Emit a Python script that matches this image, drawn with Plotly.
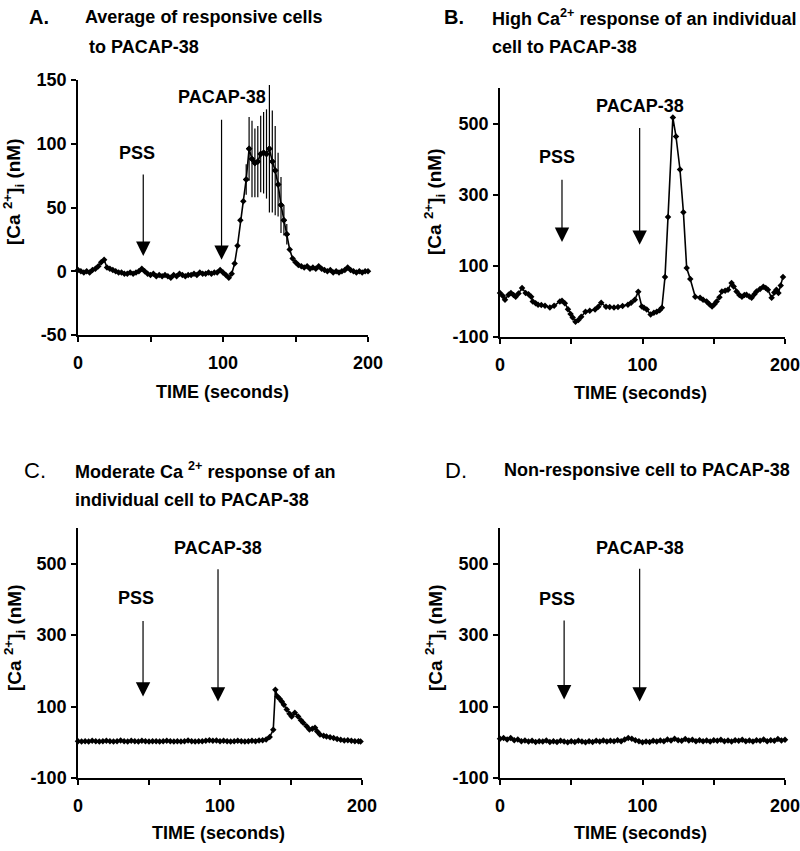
import plotly.graph_objects as go

# ---------------- data ----------------
A_t = [0, 2, 4, 6, 8, 10, 12, 14, 16, 18, 20, 22, 24, 26, 28, 30, 32, 34, 36, 38, 40,
       42, 44, 46, 48, 50, 52, 54, 56, 58, 60, 62, 64, 66, 68, 70, 72, 74, 76, 78, 80,
       82, 84, 86, 88, 90, 92, 94, 96, 98, 100, 102, 104, 106, 108, 110, 112, 114, 116, 118, 120,
       122, 124, 126, 128, 130, 132, 134, 136, 138, 140, 142, 144, 146, 148, 150, 152, 154, 156, 158, 160,
       162, 164, 166, 168, 170, 172, 174, 176, 178, 180, 182, 184, 186, 188, 190, 192, 194, 196, 198, 200]
A_v = [1, 0, -1, 0, -1, 1, 2, 4, 7, 9, 3, 2, 1, 0, -1, -1, -2, -2, -1, -2, -1,
       0, 2, 0, -2, -3, -2, -4, -3, -4, -3, -4, -5, -3, -4, -2, -3, -4, -3, -3, -2,
       -3, -1, -2, -2, -1, -2, -1, -1, 1, -1, -3, -5, -2, 6, 20, 40, 55, 72, 96, 88,
       85, 86, 92, 93, 92, 96, 86, 79, 68, 52, 40, 29, 17, 10, 7, 5, 4, 3, 4, 2,
       3, 2, 4, 2, 1, 0, 1, -1, 0, -1, 0, 1, 3, 1, 0, -1, 0, -1, 0, 0]
A_err_t = [116, 118, 120, 122, 124, 126, 128, 130, 132, 134, 136, 138, 140, 142, 144]
A_err = [12, 25, 30, 27, 28, 30, 32, 35, 50, 40, 35, 25, 22, 12, 8]

B_t = [0, 2, 3.5, 6, 7.7, 9.5, 11, 13, 15.5, 18, 20, 21.9, 23, 25, 26.7, 29, 31.6, 35, 38, 42,
       43.5, 45.5, 47.7, 49.5, 51, 53, 55, 57, 60, 63, 66.7, 69, 71, 74.4, 77, 80, 82.8, 86, 89.8, 92,
       94.6, 97, 99.5, 101, 103, 105.7, 108, 110, 112, 113.6, 115.8, 117.9, 121.3, 123.5, 126.3, 128.7, 131, 133.5, 137, 140.4,
       142.5, 145, 147, 148.8, 150.5, 152, 154, 155.7, 158, 160, 162.5, 164, 166, 168, 169.8, 171.5, 173, 175, 176.6, 178.5,
       180, 182.5, 184.8, 186.5, 188, 190.6, 192.5, 194, 195.4, 197, 198.6]
B_v = [24, 15, 5, 19, 24, 18, 13, 22, 38, 24, 20, 13, 0, -5, -9, -10, -12, -17, -12, 0,
       2, -5, -22, -35, -45, -57, -52, -43, -29, -26, -23, -15, -4, -15, -16, -17, -16, -13, -9, -4,
       5, 27, -14, -18, -23, -37, -32, -29, -25, -18, 69, 237, 517, 464, 371, 251, 94, 63, 13, 10,
       5, 0, -8, -14, -8, 0, 12, 28, 30, 33, 52, 42, 28, 18, 13, 18, 19, 14, 10, 20,
       28, 35, 41, 38, 33, 10, 25, 33, 24, 45, 69]

C_t = [0, 2.5, 5, 7.5, 10, 12.5, 15, 17.5, 20, 22.5, 25, 27.5, 30, 32.5, 35, 37.5, 40, 42.5, 45, 47.5,
       50, 52.5, 55, 57.5, 60, 62.5, 65, 67.5, 70, 72.5, 75, 77.5, 80, 82.5, 85, 87.5, 90, 92.5, 95, 97.5,
       100, 102.5, 105, 107.5, 110, 112.5, 115, 117.5, 120, 122.5, 125, 127.5, 130, 132.5, 135, 137.5, 139, 140.5, 142, 143.5,
       145, 147, 149, 150.5, 152.7, 155, 157, 158.6, 161, 163, 165, 166.9, 168.5, 170.4, 173, 175, 177.5, 180, 182.5, 185,
       187.5, 190, 192.5, 195, 197.5, 199]
C_v = [3, 2, 3, 2, 4, 3, 2, 3, 4, 3, 2, 3, 5, 3, 2, 4, 3, 2, 4, 3,
       2, 3, 3, 2, 3, 4, 3, 2, 3, 2, 3, 5, 3, 2, 3, 3, 4, 6, 4, 5,
       3, 4, 3, 2, 3, 4, 3, 2, 3, 4, 3, 5, 6, 8, 15, 35, 147, 128, 122, 114,
       105, 92, 80, 72, 83, 72, 62, 55, 45, 36, 38, 41, 30, 22, 18, 16, 14, 12, 9, 7,
       5, 6, 4, 3, 3, 2]

D_t = [0, 2.5, 5, 7.5, 10, 12.5, 15, 17.5, 20, 22.5, 25, 27.5, 30, 32.5, 35, 37.5, 40, 42.5, 45, 47.5,
       50, 52.5, 55, 57.5, 60, 62.5, 65, 67.5, 70, 72.5, 75, 77.5, 80, 82.5, 85, 87.5, 90, 92.5, 95, 97.5,
       100, 102.5, 105, 107.5, 110, 112.5, 115, 117.5, 120, 122.5, 125, 127.5, 130, 132.5, 135, 137.5, 140, 142.5, 145, 147.5,
       150, 152.5, 155, 157.5, 160, 162.5, 165, 167.5, 170, 172.5, 175, 177.5, 180, 182.5, 185, 187.5, 190, 192.5, 195, 197.5, 200]
D_v = [10, 12, 8, 12, 6, 8, 3, 5, 2, 4, 1, 3, 2, 5, 1, 3, 1, 4, 2, 0,
       3, 1, 4, 2, 0, 3, 1, 4, 2, 5, 2, 4, 3, 6, 3, 8, 12, 10, 6, 3,
       0, 2, 1, 4, 2, 5, 3, 8, 5, 10, 6, 4, 9, 5, 7, 3, 6, 3, 5, 2,
       6, 4, 7, 3, 5, 2, 6, 4, 7, 3, 5, 2, 6, 4, 8, 3, 6, 4, 9, 5, 7]

x_tickvals = [0, 50, 100, 150, 200]
x_ticktext = ["0", "", "100", "", "200"]
A_ytick = [-50, 0, 50, 100, 150]
A_yticktext = ["-50", "0", "50", "100", "150"]
BCD_ytick = [-100, 100, 300, 500]
BCD_yticktext = ["-100", "100", "300", "500"]

FONT = "Liberation Sans, Arial, sans-serif"
W, H = 800, 851

fig = go.Figure()

def px_x(p):
    return p / W

def px_y(p):
    return 1 - p / H

panels = [
    dict(t=A_t, v=A_v, xd=(78, 368), yd=(80, 335), yr=[-50, 150], yt=A_ytick, ytt=A_yticktext),
    dict(t=B_t, v=B_v, xd=(500, 785), yd=(88, 337), yr=[-100, 600], yt=BCD_ytick, ytt=BCD_yticktext),
    dict(t=C_t, v=C_v, xd=(78, 362), yd=(528, 778), yr=[-100, 600], yt=BCD_ytick, ytt=BCD_yticktext),
    dict(t=D_t, v=D_v, xd=(500, 785), yd=(528, 778), yr=[-100, 600], yt=BCD_ytick, ytt=BCD_yticktext),
]

layout_axes = {}
for i, p in enumerate(panels, start=1):
    xa = "x" if i == 1 else f"x{i}"
    ya = "y" if i == 1 else f"y{i}"
    fig.add_trace(go.Scatter(
        x=p["t"], y=p["v"], mode="lines+markers", xaxis=xa, yaxis=ya,
        line=dict(color="black", width=1.6),
        marker=dict(symbol="diamond", size=5, color="black"),
        showlegend=False, cliponaxis=False))
    common = dict(showgrid=False, zeroline=False, showline=True, linecolor="black",
                  linewidth=1.5, ticks="outside", ticklen=5, tickwidth=1.5, tickcolor="black",
                  automargin=False, ticklabeloverflow="allow",
                  tickfont=dict(family=FONT, size=18, color="black", weight="bold"))
    layout_axes[f"xaxis{'' if i == 1 else i}"] = dict(
        domain=[px_x(p["xd"][0]), px_x(p["xd"][1])], range=[0, 200],
        tickvals=x_tickvals, ticktext=x_ticktext, anchor=ya, ticklabelstandoff=6, **common)
    layout_axes[f"yaxis{'' if i == 1 else i}"] = dict(
        domain=[px_y(p["yd"][1]), px_y(p["yd"][0])], range=p["yr"],
        tickvals=p["yt"], ticktext=p["ytt"], anchor=xa, ticklabelstandoff=1, **common)

# error bars for panel A
err_lookup = dict(zip(A_t, A_v))
fig.add_trace(go.Scatter(
    x=A_err_t, y=[err_lookup[t] for t in A_err_t], mode="markers", xaxis="x", yaxis="y",
    marker=dict(size=5, color="black", symbol="diamond"),
    error_y=dict(type="data", array=A_err, visible=True, color="black", thickness=1.2, width=0),
    showlegend=False))

fig.update_layout(**layout_axes)

annotations = []

def arrow(xa, ya, x, tail, tip):
    annotations.append(dict(x=x, y=tip, ax=x, ay=tail, xref=xa, yref=ya, axref=xa, ayref=ya,
                            text="", showarrow=True, arrowhead=2, arrowsize=2.4,
                            arrowwidth=1.2, arrowcolor="black"))

def label(xa, ya, x, y, text):
    annotations.append(dict(x=x, y=y, xref=xa, yref=ya, text=f"<b>{text}</b>", showarrow=False,
                            font=dict(family=FONT, size=18, color="black"),
                            xanchor="center", yanchor="middle"))

arrow_specs = [
    ("x", "y", 45, 77, 12, (41, 93), 99, 120, 9, (99, 137)),
    ("x2", "y2", 43.5, 346, 167, (40, 405), 98, 492, 159, (98, 550)),
    ("x3", "y3", 45.8, 344, 128, (40.7, 403), 98.6, 489, 114, (98.5, 544)),
    ("x4", "y4", 45, 345, 120, (40, 400), 98, 490, 114, (98, 545)),
]
for xa, ya, px_, pt, pp, pl, ax_, at, ap, al in arrow_specs:
    arrow(xa, ya, px_, pt, pp)
    label(xa, ya, pl[0], pl[1], "PSS")
    arrow(xa, ya, ax_, at, ap)
    label(xa, ya, al[0], al[1], "PACAP-38")

def paper_text(xpx, ypx, text, size=18, anchor="left", bold=True, angle=0):
    annotations.append(dict(x=px_x(xpx), y=px_y(ypx), xref="paper", yref="paper",
                            text=f"<b>{text}</b>" if bold else text, showarrow=False,
                            textangle=angle,
                            font=dict(family=FONT, size=size, color="black"),
                            xanchor=anchor, yanchor="middle"))

# panel titles
paper_text(27, 17, "A.", size=20)
paper_text(83, 17, "Average of responsive cells")
paper_text(87, 47, "to PACAP-38")
paper_text(442, 17, "B.", size=20)
paper_text(490, 17, "High Ca<sup>2+</sup> response of an individual")
paper_text(490, 47, "cell to PACAP-38")
paper_text(22, 470, "C.", size=22, bold=False)
paper_text(73, 470, "Moderate Ca <sup>2+</sup> response of an")
paper_text(73, 500, "individual cell to PACAP-38")
paper_text(443, 470, "D.", size=22, bold=False)
paper_text(502, 470, "Non-responsive cell to PACAP-38")

# y axis titles
ytitle = "[Ca <sup>2+</sup>]<sub>i</sub> (nM)"
paper_text(14, 192, ytitle, size=19, anchor="center", angle=-90)
paper_text(435, 202, ytitle, size=19, anchor="center", angle=-90)
paper_text(14, 638, ytitle, size=19, anchor="center", angle=-90)
paper_text(435, 638, ytitle, size=19, anchor="center", angle=-90)

# x axis titles
paper_text(222, 392, "TIME (seconds)", anchor="center")
paper_text(640, 393, "TIME (seconds)", anchor="center")
paper_text(218, 833, "TIME (seconds)", anchor="center")
paper_text(640, 833, "TIME (seconds)", anchor="center")

fig.update_layout(annotations=annotations, width=W, height=H, autosize=False,
                  margin=dict(l=0, r=0, t=0, b=0, autoexpand=False),
                  paper_bgcolor="white", plot_bgcolor="white",
                  font=dict(family=FONT, color="black"))

fig.write_html("out.html",
               config={"displayModeBar": False},
               post_script="document.body.style.margin='0';document.body.style.overflow='hidden';")
